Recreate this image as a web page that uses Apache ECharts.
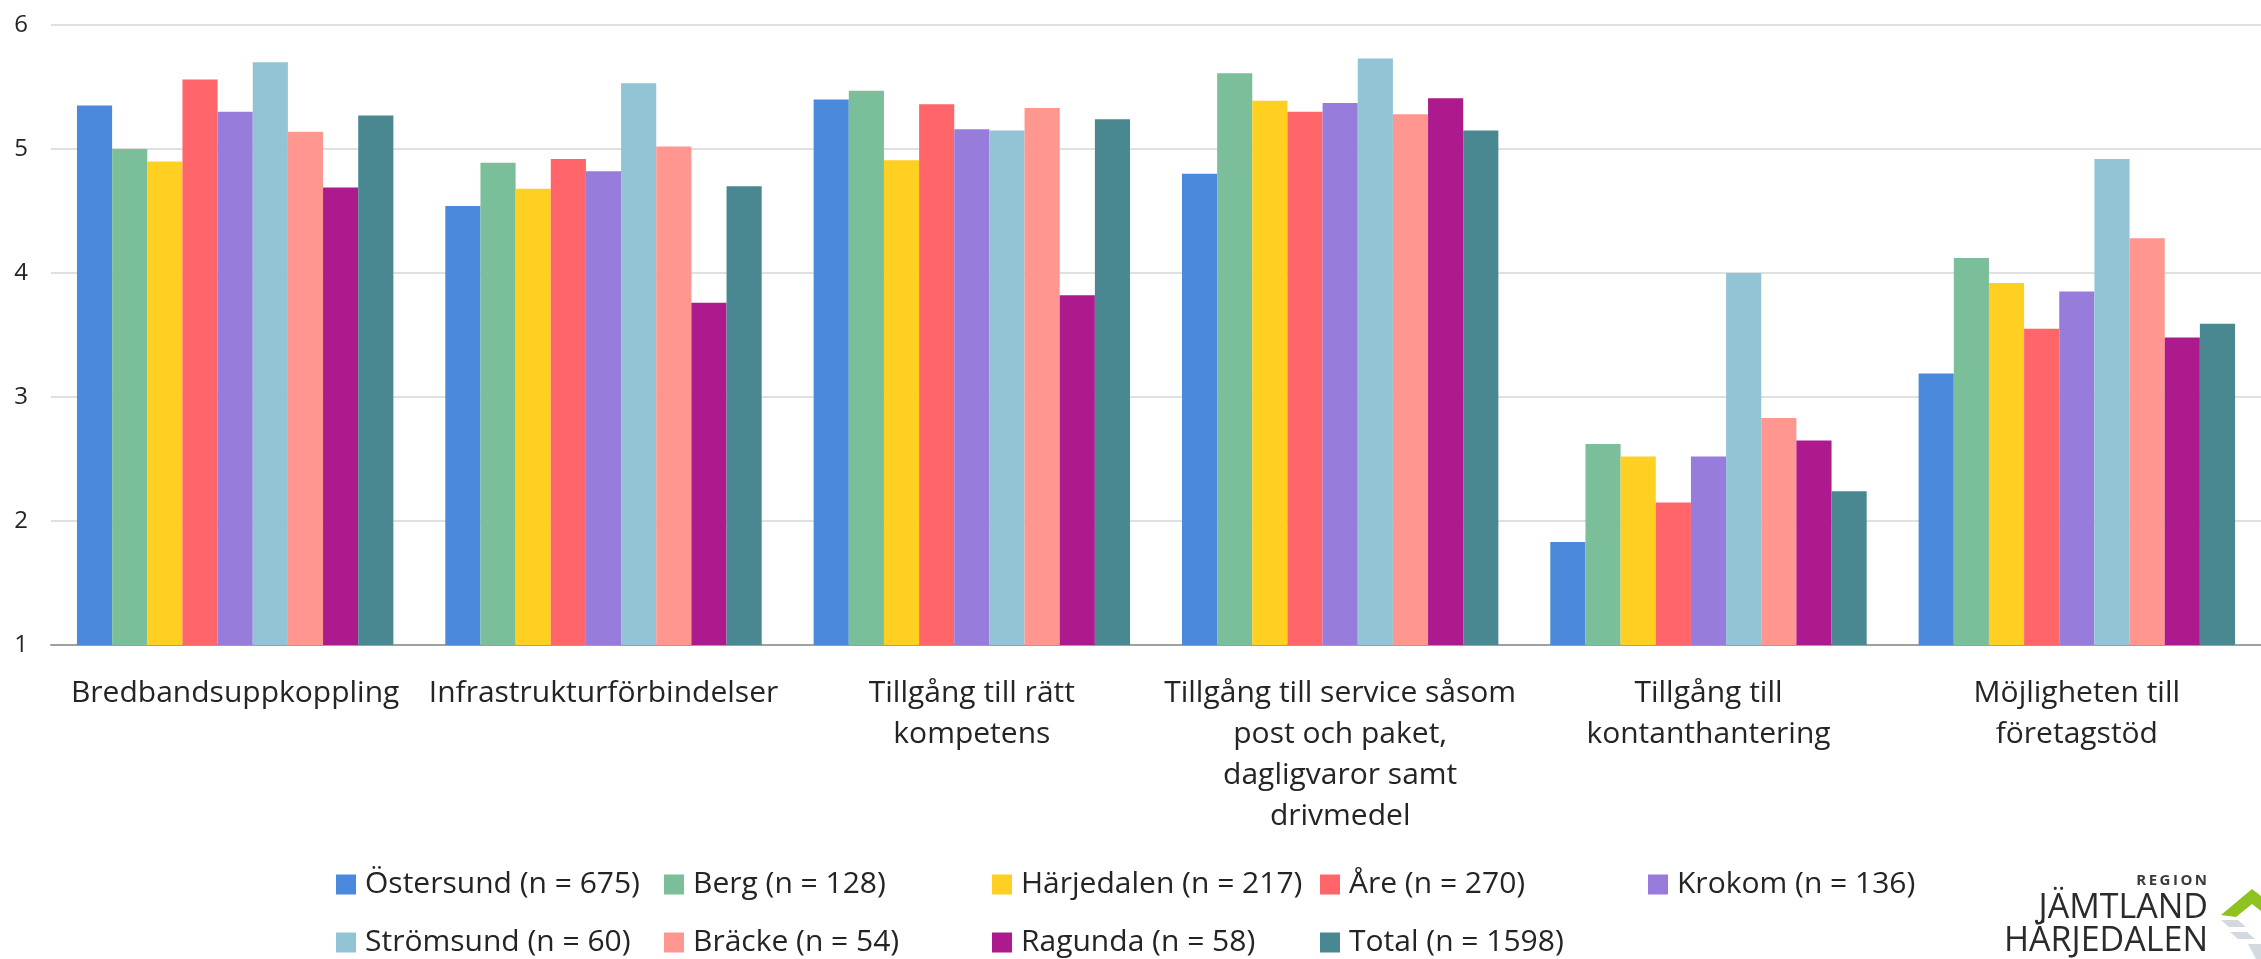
<!DOCTYPE html>
<html>
<head>
<meta charset="utf-8">
<title>Företagsklimat</title>
<script src="https://cdn.jsdelivr.net/npm/echarts@6/dist/echarts.min.js"></script>
<style>
    html, body {margin: 0; padding: 0; background: #fff;}
    #my_chart {width: 2261px; height: 959px;}
</style>
</head>
<body>
<div id="my_chart"></div>
<script>
var categories = [
    'Bredbandsuppkoppling',
    'Infrastrukturförbindelser',
    'Tillgång till rätt kompetens',
    'Tillgång till service såsom post och paket, dagligvaror samt drivmedel',
    'Tillgång till kontanthantering',
    'Möjligheten till företagstöd'
];
// tick labels as they are wrapped in the picture
var tickLabels = [
    'Bredbandsuppkoppling',
    'Infrastrukturförbindelser',
    'Tillgång till rätt\nkompetens',
    'Tillgång till service såsom\npost och paket,\ndagligvaror samt\ndrivmedel',
    'Tillgång till\nkontanthantering',
    'Möjligheten till\nföretagstöd'
];
var yTicks = [1, 2, 3, 4, 5, 6];

var seriesNames = [
    'Östersund (n = 675)', 'Berg (n = 128)', 'Härjedalen (n = 217)', 'Åre (n = 270)', 'Krokom (n = 136)',
    'Strömsund (n = 60)', 'Bräcke (n = 54)', 'Ragunda (n = 58)', 'Total (n = 1598)'
];
var ostersund = [5.35, 4.54, 5.40, 4.80, 1.83, 3.19];
var berg = [5.00, 4.89, 5.47, 5.61, 2.62, 4.12];
var harjedalen = [4.90, 4.68, 4.91, 5.39, 2.52, 3.92];
var are = [5.56, 4.92, 5.36, 5.30, 2.15, 3.55];
var krokom = [5.30, 4.82, 5.16, 5.37, 2.52, 3.85];
var stromsund = [5.70, 5.53, 5.15, 5.73, 4.00, 4.92];
var bracke = [5.14, 5.02, 5.33, 5.28, 2.83, 4.28];
var ragunda = [4.69, 3.76, 3.82, 5.41, 2.65, 3.48];
var total = [5.27, 4.70, 5.24, 5.15, 2.24, 3.59];

var seriesValues = [ostersund, berg, harjedalen, are, krokom, stromsund, bracke, ragunda, total];
var colors = ['#4A89DC', '#7BBF9A', '#FFCF21', '#FF6569', '#977CDB', '#92C4D6', '#FF9690', '#AD1A8E', '#498891'];

var font = '"Open Sans", "Noto Sans", sans-serif';
var textColor = '#252423';

var myChart = echarts.init(document.getElementById('my_chart'));

var series = [];
for (var i = 0; i < seriesNames.length; i++) {
    series.push({
        type: 'bar',
        name: seriesNames[i],
        data: seriesValues[i],
        barGap: 0,
        barCategoryGap: '14.1%',
        itemStyle: {color: colors[i]}
    });
}

// logo at bottom right (decoration only)
var logo = [
    {type: 'text', x: 2207, y: 881, style: {text: 'R\u2009E\u2009G\u2009I\u2009O\u2009N', font: 'bold 15px ' + font, fill: '#3a3a3a', textAlign: 'right', verticalAlign: 'middle'}},
    {type: 'text', x: 2208, y: 908, style: {text: 'JÄMTLAND', font: '34px ' + font, fill: '#2b2b2b', textAlign: 'right', verticalAlign: 'middle'}},
    {type: 'text', x: 2208, y: 941, style: {text: 'HÄRJEDALEN', font: '34px ' + font, fill: '#2b2b2b', textAlign: 'right', verticalAlign: 'middle'}},
    {type: 'polygon', shape: {points: [[2221, 915], [2252, 889], [2261, 896], [2261, 911], [2252, 904], [2236, 917]]}, style: {fill: '#8DC21F'}},
    {type: 'polygon', shape: {points: [[2221, 920], [2238, 920], [2246, 927], [2229, 927]]}, style: {fill: '#D3D9DF'}},
    {type: 'polygon', shape: {points: [[2230, 932], [2247, 932], [2255, 939], [2238, 939]]}, style: {fill: '#D3D9DF'}},
    {type: 'polygon', shape: {points: [[2248, 944], [2261, 944], [2261, 959], [2256, 959]]}, style: {fill: '#D3D9DF'}}
];

var option = {
    backgroundColor: '#fff',
    animation: false,
    color: colors,
    textStyle: {fontFamily: font},
    grid: {
        left: 51,
        right: 0,
        top: 25,
        bottom: 314,
        containLabel: false,
        outerBoundsMode: 'none'
    },
    legend: {
        data: seriesNames,
        left: 336,
        top: 860,
        width: 1640,
        orient: 'horizontal',
        icon: 'rect',
        itemWidth: 20,
        itemHeight: 20,
        itemGap: 9,
        padding: 0,
        textStyle: {
            fontFamily: font,
            fontSize: 30,
            color: textColor,
            width: 290,
            lineHeight: 49,
            padding: [0, 0, 0, 4]
        }
    },
    xAxis: {
        type: 'category',
        data: categories,
        axisTick: {show: false},
        axisLine: {lineStyle: {color: '#A0A0A0', width: 2}},
        axisLabel: {
            interval: 0,
            margin: 28,
            fontSize: 30,
            lineHeight: 41,
            color: textColor,
            fontFamily: font,
            formatter: function (value, idx) {
                return tickLabels[idx];
            }
        }
    },
    yAxis: {
        type: 'value',
        min: yTicks[0],
        max: yTicks[yTicks.length - 1],
        interval: 1,
        axisLine: {show: false},
        axisTick: {show: false},
        axisLabel: {fontSize: 24, color: textColor, margin: 23, fontFamily: font},
        splitLine: {lineStyle: {color: '#D6D6D6', width: 1.5}}
    },
    graphic: logo,
    series: series
};

myChart.setOption(option);
</script>
</body>
</html>
